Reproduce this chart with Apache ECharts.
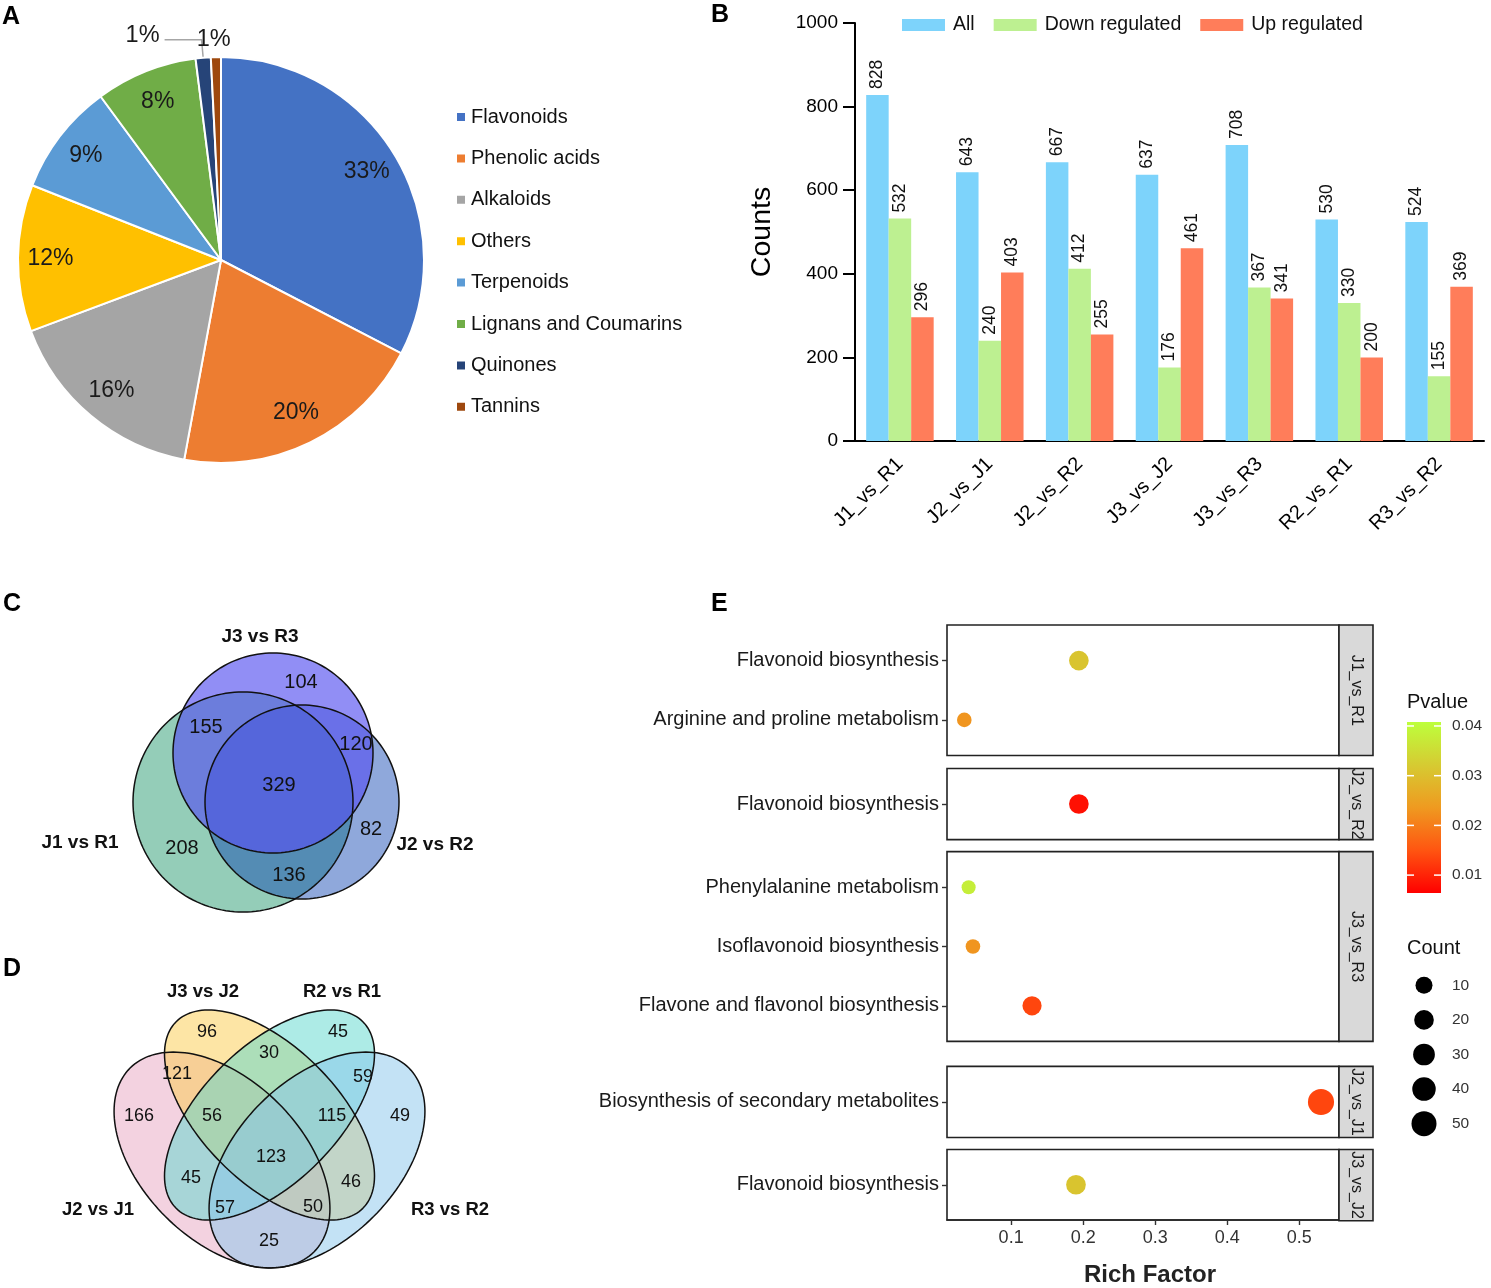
<!DOCTYPE html>
<html><head><meta charset="utf-8">
<script src="https://cdn.jsdelivr.net/npm/echarts@6/dist/echarts.min.js"></script>
<style>html,body{margin:0;padding:0;background:#fff}#c{width:1491px;height:1288px}</style>
</head><body><div id="c"></div>
<script>
// ---------------- DATA ----------------
const pieCategories = ['Flavonoids','Phenolic acids','Alkaloids','Others','Terpenoids','Lignans and Coumarins','Quinones','Tannins'];
const pieValues = [32.6, 20.3, 16.4, 11.7, 8.9, 8.1, 1.2, 0.8];

const barCategories = ['J1_vs_R1','J2_vs_J1','J2_vs_R2','J3_vs_J2','J3_vs_R3','R2_vs_R1','R3_vs_R2'];
const barSeriesNames = ['All','Down regulated','Up regulated'];
const barAll  = [828, 643, 667, 637, 708, 530, 524];
const barDown = [532, 240, 412, 176, 367, 330, 155];
const barUp   = [296, 403, 255, 461, 341, 200, 369];

const vennCSets = ['J3 vs R3','J1 vs R1','J2 vs R2'];
// regions: J3 only, J1&J3, J2&J3, all, J1 only, J2 only, J1&J2
const vennCCounts = [104, 155, 120, 329, 208, 82, 136];

const vennDSets = ['J2 vs J1','J3 vs J2','R2 vs R1','R3 vs R2'];
// regions: A, B, C, D, AB, BC, CD, ABC, BCD, ABCD, AC, BD, ACD, ABD, AD
const vennDCounts = [166, 96, 45, 49, 121, 30, 59, 56, 115, 123, 45, 46, 57, 50, 25];

const facetNames = ['J1_vs_R1','J2_vs_R2','J3_vs_R3','J2_vs_J1','J3_vs_J2'];
const facetTerms = [
  ['Flavonoid biosynthesis','Arginine and proline metabolism'],
  ['Flavonoid biosynthesis'],
  ['Phenylalanine metabolism','Isoflavonoid biosynthesis','Flavone and flavonol biosynthesis'],
  ['Biosynthesis of secondary metabolites'],
  ['Flavonoid biosynthesis']
];
const facetRich   = [[0.194, 0.035], [0.194], [0.041, 0.047, 0.129], [0.530], [0.190]];
const facetPvalue = [[0.031, 0.023], [0.008], [0.038, 0.023, 0.0135], [0.0135], [0.031]];
const facetCount  = [[20, 4], [20], [3, 4, 18], [58], [20]];
const richTicks = [0.1, 0.2, 0.3, 0.4, 0.5];
const pvalueTicks = [0.01, 0.02, 0.03, 0.04];
const countBreaks = [10, 20, 30, 40, 50];

// ---------------- STYLE / LAYOUT ----------------
const FF = '"Liberation Sans", Arial, Helvetica, sans-serif';
const pieColors = ['#4472C4','#ED7D31','#A5A5A5','#FFC000','#5B9BD5','#70AD47','#264478','#9E480E'];
const barColors = ['#7DD3FB','#BDF091','#FF7D5A'];
const pRange = [0.0064, 0.0408];
const pColors = ['#FF0000','#FF5511','#EF9A20','#D6CB32','#BDFF3C'];
const dotSize = c => 10.5 + 2.05 * Math.sqrt(c);

const vennCLayout = {
  grid: {left: 30, top: 620, width: 470, height: 310},
  circles: [ // per set index
    {cx: 243, cy: 133, a: 100, b: 100, angle: 0, fill: 'rgba(86,82,240,0.65)'},
    {cx: 213, cy: 182, a: 110, b: 110, angle: 0, fill: 'rgba(41,155,113,0.5)'},
    {cx: 272, cy: 182, a: 97,  b: 97,  angle: 0, fill: 'rgba(6,62,175,0.45)'}
  ],
  order: [1, 2, 0],
  regionPos: [[271,62],[176,107],[326,124],[249,165],[152,228],[341,209],[259,255]],
  setPos: [[230,17],[50,223],[405,225]],
  numSize: 20, setSize: 19
};
const vennDLayout = {
  grid: {left: 30, top: 980, width: 470, height: 300},
  circles: [
    {cx: 192,   cy: 180, a: 130, b: 80, angle: 45,  fill: 'rgba(231,165,193,0.5)'},
    {cx: 239.5, cy: 135, a: 132, b: 68, angle: 45,  fill: 'rgba(251,203,75,0.5)'},
    {cx: 239.5, cy: 135, a: 132, b: 68, angle: 135, fill: 'rgba(91,215,205,0.5)'},
    {cx: 287,   cy: 180, a: 130, b: 80, angle: 135, fill: 'rgba(135,197,235,0.5)'}
  ],
  order: [0, 1, 2, 3],
  regionPos: [[109,136],[177,52],[308,52],[370,136],[147,94],[239,73],[333,97],[182,136],[302,136],[241,177],[161,198],[321,202],[195,228],[283,227],[239,261]],
  setPos: [[68,230],[173,12],[312,12],[420,230]],
  numSize: 18, setSize: 18.5
};

const E = {left: 947, right: 1339, strip: 34, top0: 625, rowPx: 59.3, pad: 0.6, gaps: [13, 12, 25, 12], xMin: 0.011, xMax: 0.555};
const eTops = [], eHeights = [];
(function(){ let y = E.top0; facetTerms.forEach((t,i) => { const h = (t.length - 1 + 2*E.pad) * E.rowPx; eTops.push(y); eHeights.push(h); y += h + (E.gaps[i] || 0); }); })();

// ---------------- BUILD ----------------
const grids = [], xAxes = [], yAxes = [], series = [], graphics = [];

// Panel A : pie
series.push({
  type: 'pie', center: [221, 260], radius: 203, startAngle: 90, clockwise: true,
  avoidLabelOverlap: false, silent: true,
  itemStyle: {borderColor: '#fff', borderWidth: 2},
  label: {show: false, position: 'outside', fontSize: 23.5, color: '#1a1a1a', fontFamily: FF,
          formatter: p => Math.round(p.percent) + '%'},
  labelLayout: p => (p.dataIndex === pieCategories.length - 1 ? {dx: 20, dy: -10} : {dy: -4}),
  data: pieCategories.map((n, i) => ({
    name: n, value: pieValues[i], itemStyle: {color: pieColors[i]},
    label: {show: pieValues[i] < 2},
    labelLine: i === pieCategories.length - 1
      ? {show: false, length: 8, length2: 0}
      : {show: true, length: 18, length2: 37, smooth: false, lineStyle: {color: '#A6A6A6', width: 1.5}}
  }))
});
series.push({
  type: 'pie', center: [221, 260], radius: [132, 203], startAngle: 90, clockwise: true, silent: true,
  itemStyle: {color: 'rgba(0,0,0,0)', borderWidth: 0},
  label: {show: true, position: 'inside', fontSize: 23, color: '#1a1a1a', fontFamily: FF,
          formatter: p => Math.round(p.percent) + '%'},
  labelLine: {show: false},
  data: pieCategories.map((n, i) => ({name: n, value: pieValues[i], label: {show: pieValues[i] >= 2}}))
});

// Panel B : bars (grid 0)
grids.push({left: 855, top: 23, width: 629, height: 418});
xAxes.push({gridIndex: 0, type: 'category', data: barCategories,
  axisLine: {lineStyle: {color: '#000', width: 2}},
  axisTick: {alignWithLabel: true, length: 12, lineStyle: {color: '#000', width: 2}},
  axisLabel: {rotate: 45, fontSize: 20, color: '#000', margin: 20, fontFamily: FF}});
yAxes.push({gridIndex: 0, type: 'value', min: 0, max: 1000, interval: 200,
  name: 'Counts', nameLocation: 'middle', nameGap: 78, nameRotate: 90,
  nameTextStyle: {fontSize: 28.5, color: '#000', fontFamily: FF},
  axisLine: {show: true, lineStyle: {color: '#000', width: 2}},
  axisTick: {show: true, length: 12, lineStyle: {color: '#000', width: 2}},
  axisLabel: {fontSize: 19, color: '#000', margin: 17, fontFamily: FF, formatter: v => String(v)},
  splitLine: {show: false}});
[barAll, barDown, barUp].forEach((vals, k) => series.push({
  type: 'bar', name: barSeriesNames[k], xAxisIndex: 0, yAxisIndex: 0, data: vals,
  barWidth: 22.5, barGap: '0%', itemStyle: {color: barColors[k]},
  label: {show: true, position: 'top', rotate: 90, align: 'left', verticalAlign: 'middle', distance: 6,
          fontSize: 17.5, color: '#111', fontFamily: FF}
}));

// Panel E : facets (grids 1..5)
const eSeriesIdx = [];
facetTerms.forEach((terms, i) => {
  const gi = grids.length;
  const last = i === facetTerms.length - 1;
  grids.push({left: E.left, top: eTops[i], width: E.right - E.left, height: eHeights[i],
    show: true, borderColor: '#222', borderWidth: 1.6, backgroundColor: '#fff'});
  const idx = terms.map((t, j) => j);
  xAxes.push({gridIndex: gi, type: 'value', min: E.xMin, max: E.xMax,
    axisLine: {show: last, onZero: false, lineStyle: {color: '#222', width: 1.6}},
    axisTick: {show: last, customValues: richTicks, length: 5, lineStyle: {color: '#333', width: 1.4}},
    axisLabel: {show: last, customValues: richTicks, fontSize: 18, color: '#333', margin: 9, fontFamily: FF},
    splitLine: {show: false},
    name: last ? 'Rich Factor' : '', nameLocation: 'middle', nameGap: 43,
    nameTextStyle: {fontSize: 24, fontWeight: 'bold', color: '#222', fontFamily: FF, padding: [0, 0, 0, 14]}});
  yAxes.push({gridIndex: gi, type: 'value', min: -E.pad, max: terms.length - 1 + E.pad, inverse: true,
    axisLine: {show: false},
    axisTick: {show: true, customValues: idx, length: 5, lineStyle: {color: '#333', width: 1.4}},
    axisLabel: {show: true, customValues: idx, formatter: v => terms[Math.round(v)], fontSize: 20, color: '#1a1a1a', margin: 8, fontFamily: FF},
    splitLine: {show: false}});
  eSeriesIdx.push(series.length);
  series.push({type: 'scatter', xAxisIndex: gi, yAxisIndex: gi,
    data: terms.map((t, j) => [facetRich[i][j], j, facetPvalue[i][j], facetCount[i][j]]),
    encode: {x: 0, y: 1}, symbolSize: v => dotSize(v[3]), itemStyle: {opacity: 1}});
  // strip
  graphics.push({type: 'rect', shape: {x: E.right, y: eTops[i], width: E.strip, height: eHeights[i]},
    style: {fill: '#D9D9D9', stroke: '#222', lineWidth: 1.6}, z: 10});
  graphics.push({type: 'text', x: E.right + E.strip / 2, y: eTops[i] + eHeights[i] / 2, rotation: -Math.PI / 2,
    style: {text: facetNames[i], fontSize: 16, fill: '#1a1a1a', align: 'center', verticalAlign: 'middle', fontFamily: FF}, z: 11});
});

// Count legend (grid 6)
{
  const gi = grids.length;
  grids.push({left: 1404, top: 968, width: 40, height: 173});
  xAxes.push({gridIndex: gi, type: 'value', min: 0, max: 2, show: false});
  yAxes.push({gridIndex: gi, type: 'category', data: countBreaks.map(String), inverse: true, position: 'right',
    axisLine: {show: false}, axisTick: {show: false},
    axisLabel: {fontSize: 15.5, color: '#333', margin: 8, fontFamily: FF}});
  series.push({type: 'scatter', xAxisIndex: gi, yAxisIndex: gi, data: countBreaks.map((c, i) => [1, i, c]),
    symbolSize: v => dotSize(v[2]), itemStyle: {color: '#000', opacity: 1}});
}

// Venn diagrams
function ellipsePts(api, e) {
  const pts = [], phi = e.angle * Math.PI / 180, N = 160;
  for (let k = 0; k < N; k++) {
    const t = k / N * 2 * Math.PI;
    const x = e.cx + e.a * Math.cos(t) * Math.cos(phi) - e.b * Math.sin(t) * Math.sin(phi);
    const y = e.cy + e.a * Math.cos(t) * Math.sin(phi) + e.b * Math.sin(t) * Math.cos(phi);
    pts.push(api.coord([x, y]));
  }
  return pts;
}
function addVenn(L, sets, counts) {
  const gi = grids.length;
  grids.push(Object.assign({}, L.grid));
  xAxes.push({gridIndex: gi, type: 'value', min: 0, max: L.grid.width, show: false});
  yAxes.push({gridIndex: gi, type: 'value', min: 0, max: L.grid.height, inverse: true, show: false});
  ['fill', 'stroke'].forEach(mode => series.push({
    type: 'custom', xAxisIndex: gi, yAxisIndex: gi, clip: false, silent: true,
    data: L.order.map(si => ({name: sets[si], value: [si]})),
    renderItem: (params, api) => {
      const e = L.circles[api.value(0)];
      return {type: 'polygon', shape: {points: ellipsePts(api, e)},
        style: mode === 'fill' ? {fill: e.fill, stroke: 'none'} : {fill: 'none', stroke: '#111', lineWidth: 1.5}};
    }
  }));
  const texts = counts.map((c, i) => ({value: [i, c], kind: 0}))
    .concat(sets.map((s, i) => ({value: [i, 0], name: s, kind: 1})));
  series.push({
    type: 'custom', xAxisIndex: gi, yAxisIndex: gi, clip: false, silent: true,
    data: texts.map(t => ({name: t.name || '', value: [t.value[0], t.value[1], t.kind]})),
    renderItem: (params, api) => {
      const i = api.value(0), kind = api.value(2);
      const pos = kind === 0 ? L.regionPos[i] : L.setPos[i];
      const p = api.coord(pos);
      return {type: 'text', x: p[0], y: p[1], style: {
        text: kind === 0 ? String(api.value(1)) : sets[i],
        fontSize: kind === 0 ? L.numSize : L.setSize, fontWeight: kind === 0 ? 'normal' : 'bold',
        fill: '#111', align: 'center', verticalAlign: 'middle', fontFamily: FF}};
    }
  });
}
addVenn(vennCLayout, vennCSets, vennCCounts);
addVenn(vennDLayout, vennDSets, vennDCounts);

// Pvalue colour bar
const cb = {x: 1407, y: 722, w: 34, h: 171};
graphics.push({type: 'text', x: 1407, y: 702, style: {text: 'Pvalue', fontSize: 20, fill: '#111', align: 'left', verticalAlign: 'middle', fontFamily: FF}});
graphics.push({type: 'rect', shape: {x: cb.x, y: cb.y, width: cb.w, height: cb.h},
  style: {fill: new echarts.graphic.LinearGradient(0, 1, 0, 0, pColors.map((c, i) => ({offset: i / (pColors.length - 1), color: c})))}});
pvalueTicks.forEach(v => {
  const y = cb.y + (pRange[1] - v) / (pRange[1] - pRange[0]) * cb.h;
  graphics.push({type: 'line', shape: {x1: cb.x, y1: y, x2: cb.x + 7, y2: y}, style: {stroke: '#fff', lineWidth: 1.5}});
  graphics.push({type: 'line', shape: {x1: cb.x + cb.w - 7, y1: y, x2: cb.x + cb.w, y2: y}, style: {stroke: '#fff', lineWidth: 1.5}});
  graphics.push({type: 'text', x: 1452, y: y, style: {text: v.toFixed(2), fontSize: 15.5, fill: '#333', align: 'left', verticalAlign: 'middle', fontFamily: FF}});
});
graphics.push({type: 'text', x: 1407, y: 948, style: {text: 'Count', fontSize: 20, fill: '#111', align: 'left', verticalAlign: 'middle', fontFamily: FF}});

// Panel letters
[['A', 2, 17], ['B', 711, 15], ['C', 3, 604], ['D', 3, 969], ['E', 711, 604]].forEach(([t, x, y]) =>
  graphics.push({type: 'text', x: x, y: y, style: {text: t, fontSize: 25, fontWeight: 'bold', fill: '#000', align: 'left', verticalAlign: 'middle', fontFamily: FF}}));

const option = {
  animation: false,
  backgroundColor: '#fff',
  textStyle: {fontFamily: FF},
  legend: [
    {data: pieCategories, orient: 'vertical', left: 450, top: 102, icon: 'rect', itemWidth: 10, itemHeight: 10,
     itemGap: 21.4, selectedMode: false, textStyle: {fontSize: 20, lineHeight: 20, color: '#111', fontFamily: FF}},
    {data: barSeriesNames, orient: 'horizontal', left: 897, top: 10, icon: 'rect', itemWidth: 43, itemHeight: 12,
     itemGap: 19, selectedMode: false, textStyle: {fontSize: 19.5, lineHeight: 20, color: '#111', padding: [0, 0, 0, 3], fontFamily: FF}}
  ],
  visualMap: {type: 'continuous', show: false, seriesIndex: eSeriesIdx, dimension: 2,
    min: pRange[0], max: pRange[1], inRange: {color: pColors}},
  grid: grids, xAxis: xAxes, yAxis: yAxes, series: series, graphic: graphics
};
const chart = echarts.init(document.getElementById('c'));
chart.setOption(option);
</script></body></html>
